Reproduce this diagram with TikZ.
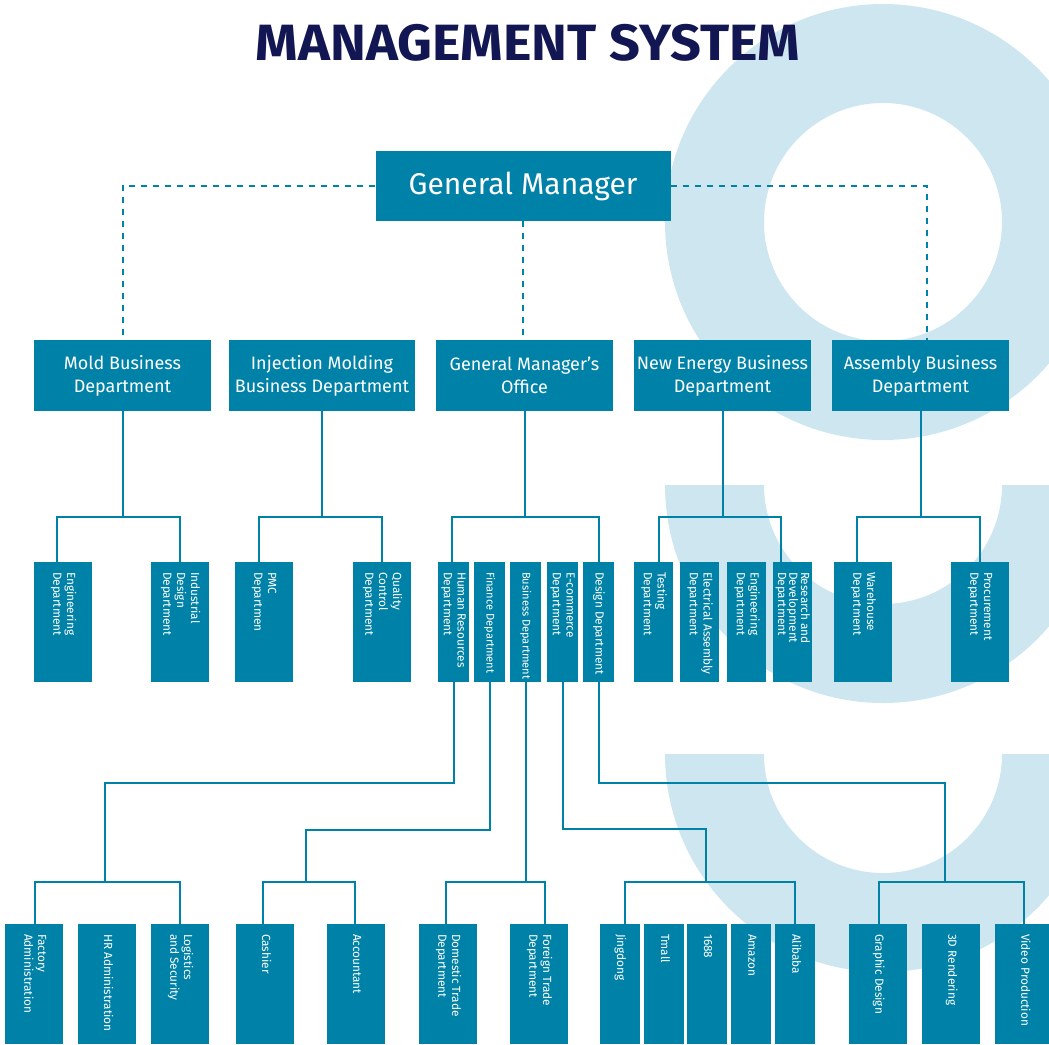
\documentclass[tikz,border=0pt]{standalone}
\usepackage{fontspec}
\setmainfont{Fira Sans}
\usepackage{graphicx}
\usetikzlibrary{positioning}

\definecolor{boxblue}{RGB}{0,130,168}
\definecolor{ringblue}{RGB}{205,230,240}
\definecolor{titlenavy}{RGB}{18,22,82}

% text that reads top to bottom, starting near the top of a tall box
\newcommand{\vlab}[2][1]{\rotatebox{-90}{\makebox[100pt][l]{\renewcommand{\arraystretch}{#1}\begin{tabular}{@{}l@{}}#2\end{tabular}}}}

\tikzset{
  box/.style={fill=boxblue, text=white, inner sep=0pt, align=center},
  hbox/.style={box, minimum width=177pt, minimum height=71pt, font=\fontsize{18}{23}\selectfont},
  vbox/.style={box, minimum width=58pt, minimum height=120pt, font=\fontsize{11.8}{13.8}\selectfont},
  small/.style={font=\fontsize{11.1}{13.8}\selectfont},
  conn/.style={draw=boxblue, line width=2pt},
  dconn/.style={conn, dash pattern=on 6pt off 6pt},
}

\begin{document}
\begin{tikzpicture}[x=1pt, y=-1pt]
    \path[use as bounding box, clip] (0,0) rectangle (1049,1044);

    % background rings
    \fill[ringblue, even odd rule] (883,222) circle (218) (883,222) circle (119);
    \fill[ringblue] (665,485) arc[start angle=180, end angle=0, radius=218]
        -- (1002,485) arc[start angle=0, end angle=180, radius=119] -- cycle;
    \fill[ringblue] (665,754) arc[start angle=180, end angle=0, radius=218]
        -- (1002,754) arc[start angle=0, end angle=180, radius=119] -- cycle;

    % title
    \node (title) at (528,43) [text=titlenavy, xscale=1.06, font=\fontsize{51}{53}\selectfont\bfseries] {MANAGEMENT SYSTEM};

    % top
    \node (gm) at (523,186) [box, minimum width=295pt, minimum height=70pt, font=\fontsize{30}{32}\selectfont] {General Manager};

    % business departments
    \node (mold) at (122.5,375.5) [hbox] {Mold Business\\Department};
    \node (inj) at (322,375.5) [hbox, minimum width=186pt] {Injection Molding\\Business Department};
    \node (gmo) at (524.5,375.5) [hbox] {General Manager's\\Office};
    \node (ne) at (722.5,375.5) [hbox] {New Energy Business\\Department};
    \node (asm) at (920.5,375.5) [hbox] {Assembly Business\\Department};

    \draw[dconn] (gm.west) -| (mold.north);
    \draw[dconn] (gm.east) -| ([xshift=6.5]asm.north);
    \draw[dconn] (gm.south) -- (gm.south |- gmo.north);

    % departments
    \node (eng1) at (63,622) [vbox] {\vlab{Engineering\\Department}};
    \node (indd) at (180,622) [vbox] {\vlab{Industrial\\Design\\Department}};
    \node (pmc) at (264,622) [vbox] {\vlab{PMC\\Departmen}};
    \node (qc) at (382,622) [vbox] {\vlab{Quality\\Control\\Department}};
    \node (hr) at (453.5,622) [vbox, minimum width=31pt] {\vlab{Human Resources\\Department}};
    \node (fin) at (489.5,622) [vbox, small, minimum width=31pt] {\vlab{Finance Department}};
    \node (bus) at (525.5,622) [vbox, small, minimum width=31pt] {\vlab{Business Department}};
    \node (ecom) at (562.5,622) [vbox, minimum width=31pt] {\vlab{E-commerce\\Department}};
    \node (des) at (598.5,622) [vbox, minimum width=31pt] {\vlab{Design Department}};
    \node (test) at (653.5,622) [vbox, minimum width=39pt] {\vlab{Testing\\Department}};
    \node (elec) at (699.5,622) [vbox, minimum width=39pt] {\vlab{Electrical Assembly\\Department}};
    \node (eng2) at (746.5,622) [vbox, minimum width=39pt] {\vlab{Engineering\\Department}};
    \node (rnd) at (792.5,622) [vbox, minimum width=39pt] {\vlab[0.75]{Research and\\Development\\Department}};
    \node (ware) at (863,622) [vbox] {\vlab{Warehouse\\Department}};
    \node (proc) at (980,622) [vbox] {\vlab{Procurement\\Department}};

    \draw[conn] (mold.south) -- ++(0,106);
    \draw[conn] ([xshift=-6]eng1.north) -- ++(0,-45) -| (indd.north);
    \draw[conn] (inj.south) -- ++(0,106);
    \draw[conn] ([xshift=-5]pmc.north) -- ++(0,-45) -| (qc.north);
    \draw[conn] (gmo.south) -- ++(0,106);
    \draw[conn] ([xshift=-1.5]hr.north) -- ++(0,-45) -| (des.north);
    \draw[conn] (ne.south) -- ++(0,106);
    \draw[conn] ([xshift=5.5]test.north) -- ++(0,-45) -| ([xshift=-11.5]rnd.north);
    \draw[conn] (asm.south) -- ++(0,106);
    \draw[conn] ([xshift=-6]ware.north) -- ++(0,-45) -| (proc.north);

    % sections
    \node (fac) at (34,984) [vbox] {\vlab{Factory\\Administration}};
    \node (hra) at (107,984) [vbox] {\vlab{HR Administration}};
    \node (log) at (180,984) [vbox] {\vlab{Logistics\\and Security}};
    \node (cash) at (265,984) [vbox] {\vlab{Cashier}};
    \node (acc) at (356,984) [vbox] {\vlab{Accountant}};
    \node (dom) at (448,984) [vbox] {\vlab{Domestic Trade\\Department}};
    \node (for) at (539,984) [vbox] {\vlab{Foreign Trade\\Department}};
    \node (jd) at (620,984) [vbox, minimum width=40pt] {\vlab{Jingdong}};
    \node (tm) at (664,984) [vbox, minimum width=40pt] {\vlab{Tmall}};
    \node (n1688) at (707,984) [vbox, minimum width=40pt] {\vlab{1688}};
    \node (amz) at (751,984) [vbox, minimum width=40pt] {\vlab{Amazon}};
    \node (ali) at (795,984) [vbox, minimum width=40pt] {\vlab{Alibaba}};
    \node (gra) at (878,984) [vbox] {\vlab{Graphic Design}};
    \node (ren) at (951,984) [vbox] {\vlab{3D Rendering}};
    \node (vid) at (1024,984) [vbox] {\vlab{Video Production}};

    \coordinate (hrj) at (105,882);
    \coordinate (finj) at (306,882);
    \coordinate (ecj) at (706,882);
    \coordinate (desj) at (945,882);

    \draw[conn] (hr.south) -- ++(0,101) -| (hrj);
    \draw[conn] ([xshift=1]fac.north) -- ++(0,-42) -| (log.north);
    \draw[conn] (fin.south) -- ++(0,148) -| (finj);
    \draw[conn] ([xshift=-2]cash.north) -- ++(0,-42) -| ([xshift=-1]acc.north);
    \draw[conn] (bus.south) -- ++(0,200);
    \draw[conn] ([xshift=-2]dom.north) -- ++(0,-42) -| ([xshift=6]for.north);
    \draw[conn] (ecom.south) -- ++(0,147) -| (ecj);
    \draw[conn] ([xshift=5]jd.north) -- ++(0,-42) -| (ali.north);
    \draw[conn] (des.south) -- ++(0,101) -| (desj);
    \draw[conn] ([xshift=1]gra.north) -- ++(0,-42) -| (vid.north);
\end{tikzpicture}
\end{document}
